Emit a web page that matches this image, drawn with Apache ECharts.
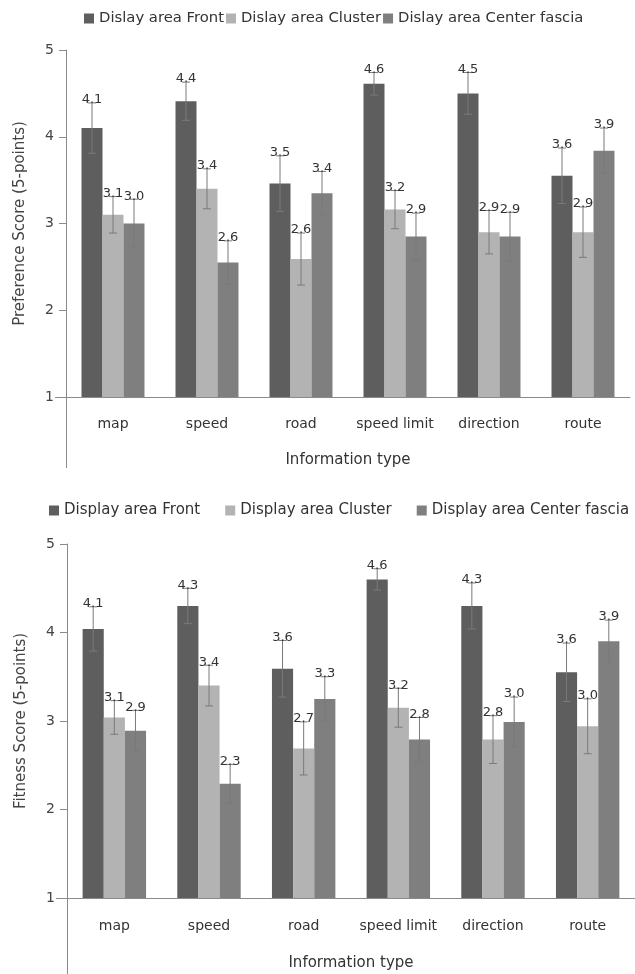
<!DOCTYPE html>
<html><head><meta charset="utf-8">
<script src="https://cdn.jsdelivr.net/npm/echarts@6/dist/echarts.min.js"></script>
<style>html,body{margin:0;padding:0;background:#fff}#c{width:635px;height:974px}</style>
</head><body><div id="c"></div>
<script>
// ---- data ----
const categories = ['map', 'speed', 'road', 'speed limit', 'direction', 'route'];
const yTicks = [1, 2, 3, 4, 5];

const prefNames = ['Dislay area Front', 'Dislay area Cluster', 'Dislay area Center fascia'];
const prefFront = [4.10, 4.41, 3.46, 4.61, 4.50, 3.55];
const prefFrontErr = [0.29, 0.22, 0.32, 0.13, 0.24, 0.32];
const prefFrontLabels = ['4.1', '4.4', '3.5', '4.6', '4.5', '3.6'];
const prefCluster = [3.10, 3.40, 2.59, 3.16, 2.90, 2.90];
const prefClusterErr = [0.21, 0.23, 0.30, 0.22, 0.25, 0.29];
const prefClusterLabels = ['3.1', '3.4', '2.6', '3.2', '2.9', '2.9'];
const prefCenter = [3.00, 2.55, 3.35, 2.85, 2.85, 3.84];
const prefCenterErr = [0.28, 0.25, 0.25, 0.27, 0.28, 0.26];
const prefCenterLabels = ['3.0', '2.6', '3.4', '2.9', '2.9', '3.9'];

const fitNames = ['Display area Front', 'Display area Cluster', 'Display area Center fascia'];
const fitFront = [4.04, 4.30, 3.59, 4.60, 4.30, 3.55];
const fitFrontErr = [0.25, 0.20, 0.32, 0.12, 0.26, 0.33];
const fitFrontLabels = ['4.1', '4.3', '3.6', '4.6', '4.3', '3.6'];
const fitCluster = [3.04, 3.40, 2.69, 3.15, 2.79, 2.94];
const fitClusterErr = [0.19, 0.23, 0.30, 0.22, 0.27, 0.31];
const fitClusterLabels = ['3.1', '3.4', '2.7', '3.2', '2.8', '3.0'];
const fitCenter = [2.89, 2.29, 3.25, 2.79, 2.99, 3.90];
const fitCenterErr = [0.23, 0.22, 0.25, 0.25, 0.28, 0.24];
const fitCenterLabels = ['2.9', '2.3', '3.3', '2.8', '3.0', '3.9'];

const xTitle = 'Information type';
const prefYTitle = 'Preference Score (5-points)';
const fitYTitle = 'Fitness Score (5-points)';

// ---- chart ----
const FONT = '"DejaVu Sans", sans-serif';
const colors = ['#5e5e5e', '#b3b3b3', '#7f7f7f'];
const GAP = 0.33;
const AXIS = '#8a8a8a';
const chart = echarts.init(document.getElementById('c'));

function barSeries(name, g, idx, values) {
  return {
    type: 'bar', name: name, xAxisIndex: g, yAxisIndex: g, data: values,
    barGap: '0%', barCategoryGap: (GAP * 100) + '%',
    itemStyle: { color: colors[idx] }, silent: true
  };
}
function errSeries(name, g, idx, values, errs, labels) {
  return {
    type: 'custom', name: name + ' err', xAxisIndex: g, yAxisIndex: g, z: 10, silent: true,
    data: values.map((v, i) => [i, v, errs[i]]),
    renderItem(params, api) {
      const i = api.value(0), v = api.value(1), e = api.value(2);
      const band = api.size([1, 0])[0];
      const bw = band * (1 - GAP) / 3;
      const c = api.coord([i, v]);
      const x = c[0] + (idx - 1) * bw;
      const yt = api.coord([i, v + e])[1], yb = api.coord([i, v - e])[1];
      const cap = 4, st = { stroke: '#7a7a7a', lineWidth: 1 };
      return { type: 'group', children: [
        { type: 'line', shape: { x1: x, y1: yt, x2: x, y2: yb }, style: st },
        { type: 'line', shape: { x1: x - cap, y1: yt, x2: x + cap, y2: yt }, style: st },
        { type: 'line', shape: { x1: x - cap, y1: yb, x2: x + cap, y2: yb }, style: st },
        { type: 'text', x: x, y: yt - 3, style: { text: labels[params.dataIndex], fill: '#333',
          font: '13px ' + FONT, align: 'center', verticalAlign: 'middle' } }
      ] };
    }
  };
}
function yAxis(g, title) {
  return {
    gridIndex: g, type: 'value', min: yTicks[0], max: yTicks[yTicks.length - 1], interval: 1,
    name: title, nameLocation: 'middle', nameGap: 38, nameRotate: 90,
    nameTextStyle: { fontFamily: FONT, fontSize: 15, color: '#444' },
    axisLine: { show: true, lineStyle: { color: AXIS } },
    axisTick: { show: true, inside: false, length: 7, lineStyle: { color: AXIS } },
    axisLabel: { fontFamily: FONT, fontSize: 14, color: '#444', margin: 12 },
    splitLine: { show: false }
  };
}
function xAxis(g, labelMargin, nameGap) {
  return {
    gridIndex: g, type: 'category', data: categories,
    name: xTitle, nameLocation: 'middle', nameGap: nameGap,
    nameTextStyle: { fontFamily: FONT, fontSize: 15, color: '#333' },
    axisLine: { show: true, lineStyle: { color: AXIS } },
    axisTick: { show: false },
    axisLabel: { fontFamily: FONT, fontSize: 14, color: '#333', margin: labelMargin, interval: 0 }
  };
}

const option = {
  backgroundColor: '#fff',
  animation: false,
  legend: [
    { data: prefNames, left: 79, top: 6, width: 600, icon: 'rect', itemWidth: 10, itemHeight: 10, itemGap: 2,
      textStyle: { fontFamily: FONT, fontSize: 14.8, color: '#333' }, selectedMode: false },
    { data: fitNames, left: 44, top: 498, width: 640, icon: 'rect', itemWidth: 10, itemHeight: 10, itemGap: 25,
      textStyle: { fontFamily: FONT, fontSize: 15, color: '#333' }, selectedMode: false }
  ],
  grid: [
    { left: 66, top: 50, width: 564, height: 347 },
    { left: 67, top: 544, width: 578, height: 354 }
  ],
  xAxis: [xAxis(0, 20, 56), xAxis(1, 21, 58)],
  yAxis: [yAxis(0, prefYTitle), yAxis(1, fitYTitle)],
  series: [
    barSeries(prefNames[0], 0, 0, prefFront),
    barSeries(prefNames[1], 0, 1, prefCluster),
    barSeries(prefNames[2], 0, 2, prefCenter),
    errSeries(prefNames[0], 0, 0, prefFront, prefFrontErr, prefFrontLabels),
    errSeries(prefNames[1], 0, 1, prefCluster, prefClusterErr, prefClusterLabels),
    errSeries(prefNames[2], 0, 2, prefCenter, prefCenterErr, prefCenterLabels),
    barSeries(fitNames[0], 1, 0, fitFront),
    barSeries(fitNames[1], 1, 1, fitCluster),
    barSeries(fitNames[2], 1, 2, fitCenter),
    errSeries(fitNames[0], 1, 0, fitFront, fitFrontErr, fitFrontLabels),
    errSeries(fitNames[1], 1, 1, fitCluster, fitClusterErr, fitClusterLabels),
    errSeries(fitNames[2], 1, 2, fitCenter, fitCenterErr, fitCenterLabels)
  ],
  graphic: [
    { type: 'line', shape: { x1: 55, y1: 397.5, x2: 66, y2: 397.5 }, style: { stroke: AXIS, lineWidth: 1 } },
    { type: 'line', shape: { x1: 66.5, y1: 397, x2: 66.5, y2: 468 }, style: { stroke: AXIS, lineWidth: 1 } },
    { type: 'line', shape: { x1: 56, y1: 898.5, x2: 67, y2: 898.5 }, style: { stroke: AXIS, lineWidth: 1 } },
    { type: 'line', shape: { x1: 67.5, y1: 898, x2: 67.5, y2: 974 }, style: { stroke: AXIS, lineWidth: 1 } }
  ]
};
chart.setOption(option);
</script>
</body></html>
